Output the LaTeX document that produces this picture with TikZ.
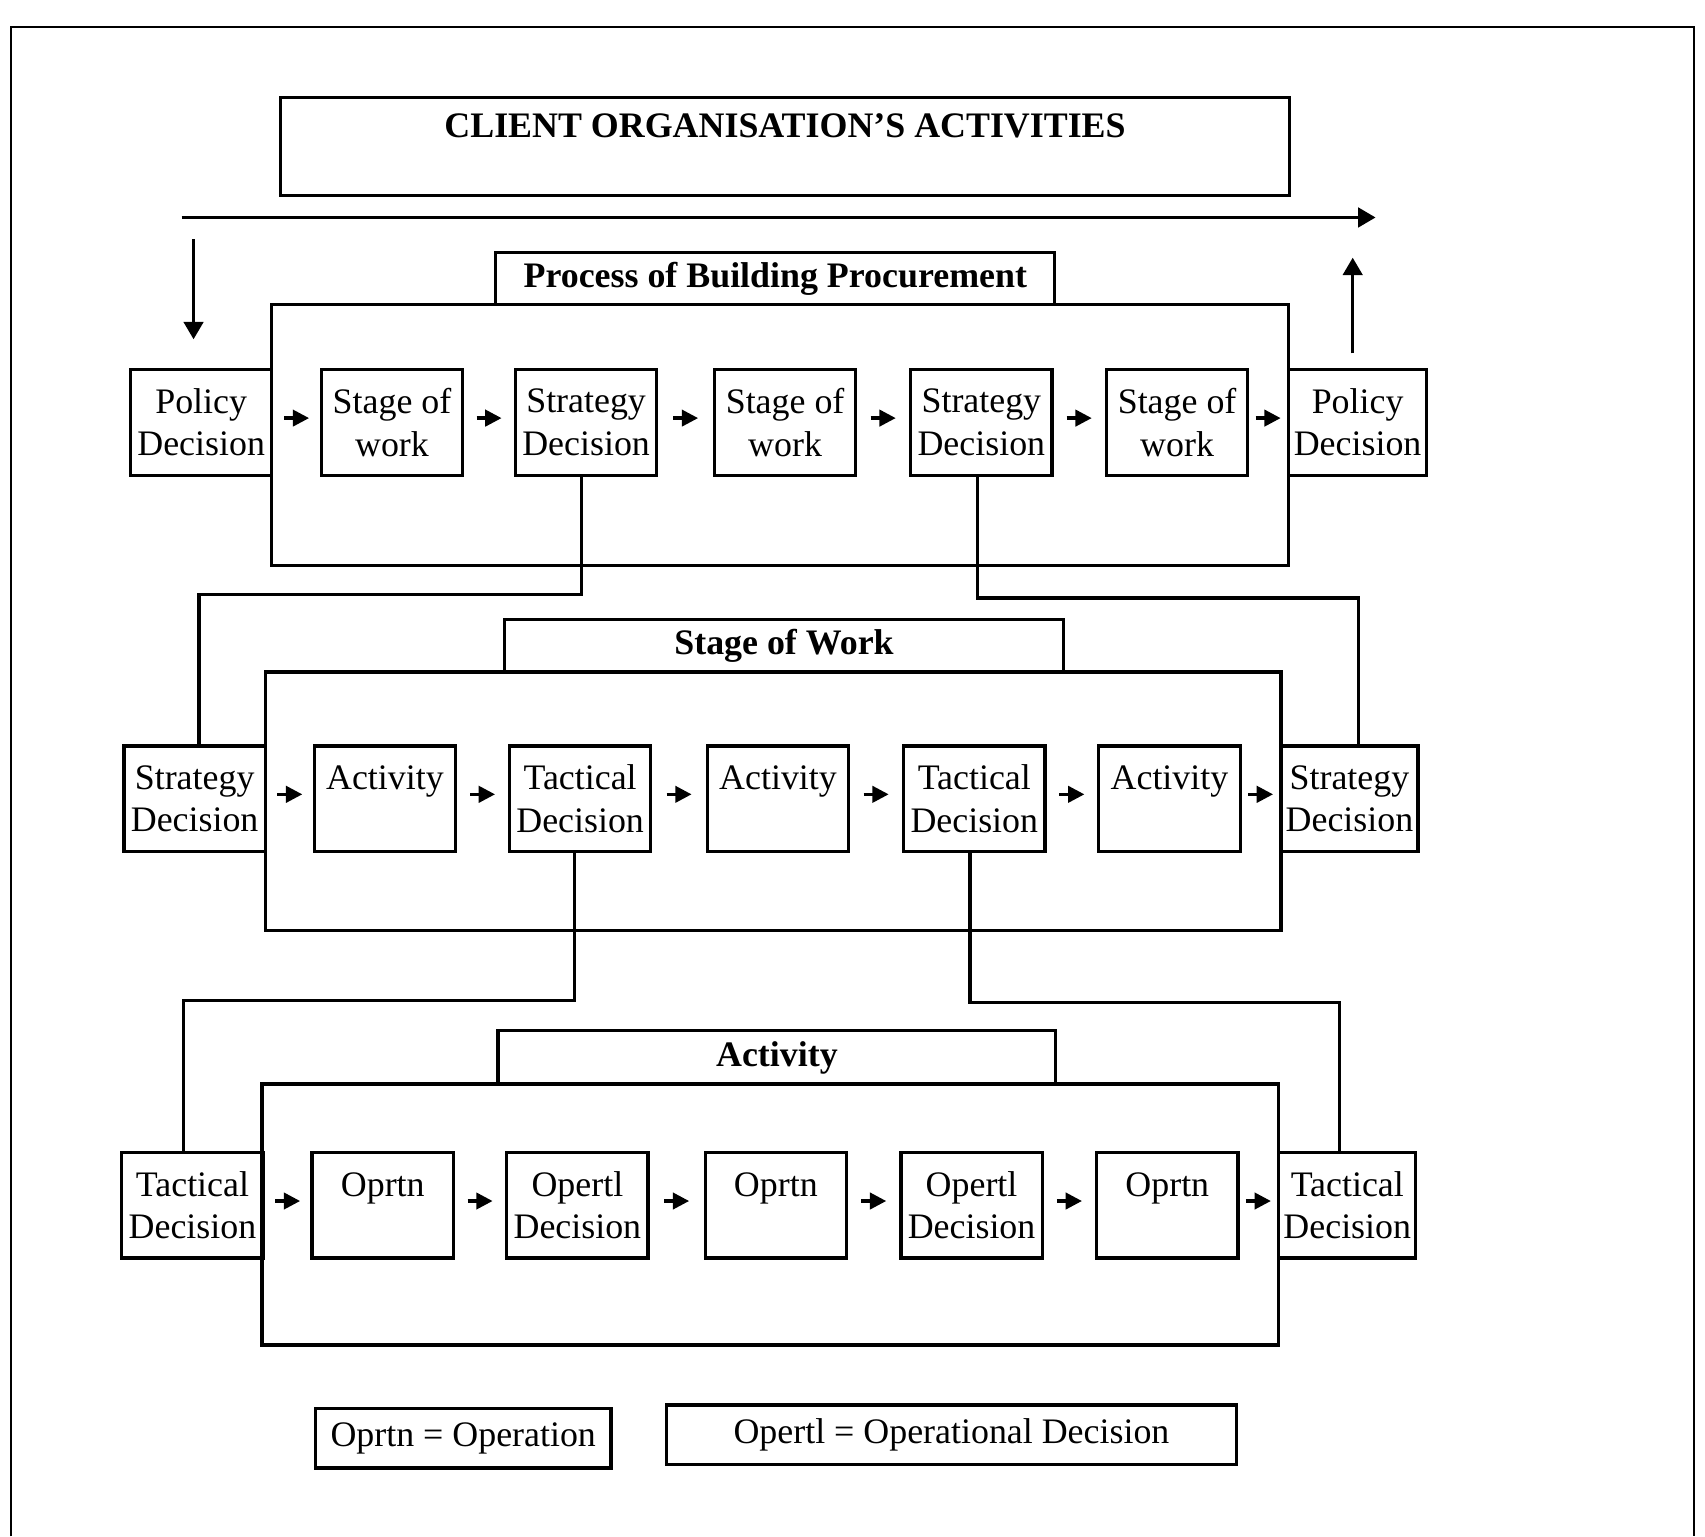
\documentclass[tikz,border=0pt]{standalone}
\usepackage{fontspec}
\setmainfont{Liberation Serif}
\usetikzlibrary{arrows.meta,calc}
\newcommand\flowarrow[2]{\draw[flow] ($(#1.east)!.5!(#2.west)+(-11.5,-4)$) -- ++(23,0);}
\begin{document}
\begin{tikzpicture}[x=1pt,y=-1pt,
  txt/.style={font=\fontsize{33}{39}\selectfont},
  hdr/.style={font=\fontsize{33}{39}\selectfont\bfseries},
  box/.style={draw, line width=3pt, minimum width=130pt, minimum height=97pt,
    inner sep=0pt, align=center, txt},
  frame/.style={draw, line width=3pt, inner sep=0pt},
  tab/.style={draw, line width=3pt, inner sep=0pt, hdr},
  flow/.style={line width=3pt, -{Triangle[length=15pt,width=15pt]}},
  link/.style={line width=3pt},
  bigarr/.style={line width=2.7pt, -{Triangle[length=16pt,width=18pt]}}
]
\useasboundingbox (0,0) rectangle (1568,1413);

% outer page frame, open at the bottom
\draw[line width=2pt] (10,1413) -- (10,25) -- (1558,25) -- (1558,1413);

% title
\node[frame, minimum width=928pt, minimum height=90pt, align=center, hdr]
  (title) at (722,135) {CLIENT ORGANISATION'S ACTIVITIES\\\mbox{}};

% overall flow arrows
\coordinate (tl) at (167,200);
\coordinate (tr) at (1265,200);
\draw[bigarr] (tl) -- (tr);
\coordinate (dtop) at (178,220);
\coordinate (dbot) at (178,312);
\draw[bigarr] (dtop) -- (dbot);
\coordinate (ubot) at (1244,325);
\coordinate (utop) at (1244,237);
\draw[bigarr] (ubot) -- (utop);

% ---- level 1: process of building procurement
\node[frame, minimum width=935pt, minimum height=240pt] (proc) at (717.5,400) {};
\node[tab, minimum width=514pt, minimum height=48pt] (proch) at (713,256)
  {Process of Building Procurement};
\node[box] (pd1) at (185,388.5) {Policy\\Decision};
\node[box] (sw1) at (360.5,388.5) {Stage of\\work};
\node[box] (sd1) at (539,388.5) {Strategy\\Decision};
\node[box] (sw2) at (722,388.5) {Stage of\\work};
\node[box] (sd2) at (902.5,388.5) {Strategy\\Decision};
\node[box] (sw3) at (1082.5,388.5) {Stage of\\work};
\node[box, minimum width=127pt] (pd2) at (1248.5,388.5) {Policy\\Decision};
\flowarrow{pd1}{sw1}
\flowarrow{sw1}{sd1}
\flowarrow{sd1}{sw2}
\flowarrow{sw2}{sd2}
\flowarrow{sd2}{sw3}
\flowarrow{sw3}{pd2}

% ---- level 2: stage of work
\node[frame, minimum width=934pt, minimum height=238pt] (stage) at (711,737) {};
\node[tab, minimum width=514pt, minimum height=48pt] (stageh) at (721,594)
  {Stage of Work};
\node[box] (sl2) at (179,734.5) {Strategy\\Decision};
\node[box] (ac1) at (354,734.5) {Activity\\\mbox{}};
\node[box] (td1) at (533.5,734.5) {Tactical\\Decision};
\node[box] (ac2) at (715.5,734.5) {Activity\\\mbox{}};
\node[box] (td2) at (896,734.5) {Tactical\\Decision};
\node[box] (ac3) at (1075.5,734.5) {Activity\\\mbox{}};
\node[box, minimum width=126pt] (sr2) at (1241,734.5) {Strategy\\Decision};
\flowarrow{sl2}{ac1}
\flowarrow{ac1}{td1}
\flowarrow{td1}{ac2}
\flowarrow{ac2}{td2}
\flowarrow{td2}{ac3}
\flowarrow{ac3}{sr2}

% links from strategy decisions down to level 2
\coordinate (k1) at (0,547);
\coordinate (k2) at (0,550);
\draw[link] ([xshift=-4pt]sd1.south) -- ([xshift=-4pt]sd1.south |- k1) -| ([xshift=4pt]sl2.north);
\draw[link] ([xshift=-3.5pt]sd2.south) -- ([xshift=-3.5pt]sd2.south |- k2) -| ([xshift=8pt]sr2.north);

% ---- level 3: activity
\node[frame, minimum width=935pt, minimum height=240pt] (act) at (708.5,1117) {};
\node[tab, minimum width=513pt, minimum height=49pt] (acth) at (714.5,972.5)
  {Activity};
\node[box] (tl3) at (177,1108.5) {Tactical\\Decision};
\node[box] (op1) at (352,1108.5) {Oprtn\\\mbox{}};
\node[box] (od1) at (531,1108.5) {Opertl\\Decision};
\node[box] (op2) at (713.5,1108.5) {Oprtn\\\mbox{}};
\node[box] (od2) at (893.5,1108.5) {Opertl\\Decision};
\node[box] (op3) at (1073.5,1108.5) {Oprtn\\\mbox{}};
\node[box, minimum width=126pt] (tr3) at (1239,1108.5) {Tactical\\Decision};
\flowarrow{tl3}{op1}
\flowarrow{op1}{od1}
\flowarrow{od1}{op2}
\flowarrow{op2}{od2}
\flowarrow{od2}{op3}
\flowarrow{op3}{tr3}

% links from tactical decisions down to level 3
\coordinate (k3) at (0,920);
\coordinate (k4) at (0,922);
\draw[link] ([xshift=-5.5pt]td1.south) -- ([xshift=-5.5pt]td1.south |- k3) -| ([xshift=-8pt]tl3.north);
\draw[link] ([xshift=-4pt]td2.south) -- ([xshift=-4pt]td2.south |- k4) -| ([xshift=-7pt]tr3.north);

% legend
\node[frame, minimum width=272pt, minimum height=55pt, txt] (lg1) at (426,1322.5)
  {Oprtn = Operation};
\node[frame, minimum width=524pt, minimum height=55pt, txt] (lg2) at (875,1319.5)
  {Opertl = Operational Decision};
\end{tikzpicture}
\end{document}
